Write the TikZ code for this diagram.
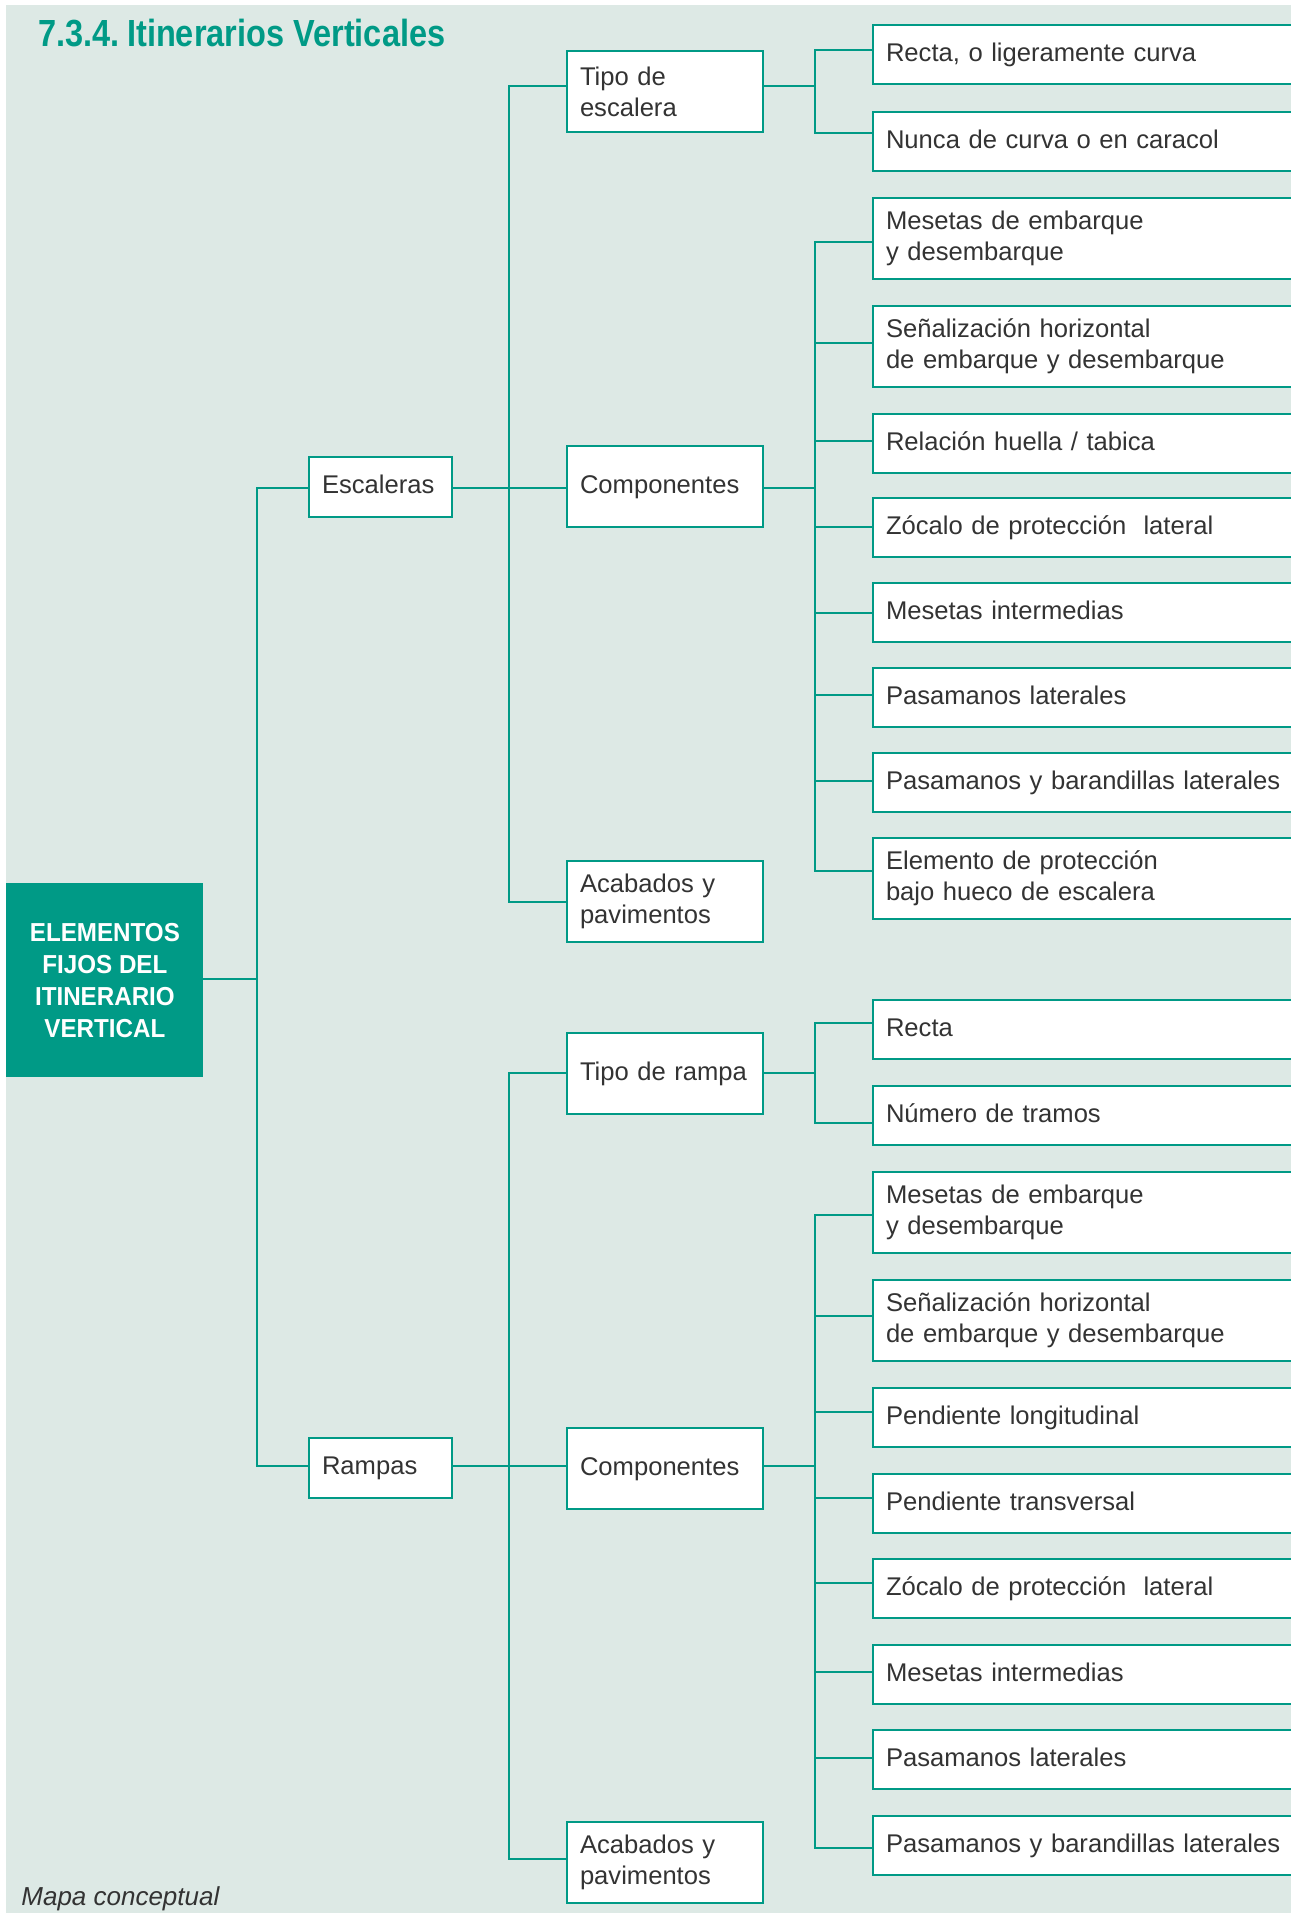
\documentclass[tikz,border=0pt]{standalone}
\usepackage{fontspec}
\setmainfont{Liberation Sans}
\newfontfamily\titlefont{Liberation Sans}[FakeStretch=0.86]
\newfontfamily\rootfont{Liberation Sans}[FakeStretch=0.93]
\usetikzlibrary{calc}
\definecolor{teal1}{HTML}{009A86}
\definecolor{bgc}{HTML}{DDE9E5}
\definecolor{txt}{HTML}{333333}
\newcommand\cc[2]{\draw[conn] (B3 |- 0,#2) -- (#1.west |- 0,#2);}
\begin{document}
\begin{tikzpicture}[x=0.5pt,y=-0.5pt,
  conn/.style={draw=teal1,line width=1pt,line cap=rect},
  bus/.style={draw=teal1,line width=1.4pt,line cap=rect},
  bx/.style={draw=teal1,fill=white,line width=1pt,anchor=north west,inner xsep=6.5pt,inner ysep=2pt,align=left,text=txt,font=\fontsize{12.8pt}{15.5pt}\selectfont},
  b1/.style={bx,minimum width=71.5pt,text width=58.5pt},
  b2/.style={bx,minimum width=98pt,text width=85pt},
  b3/.style={bx,minimum width=213pt,text width=200pt},
  one/.style={text height=9.5pt,text depth=3pt},
  s1/.style={one,minimum height=29.5pt},
  s2/.style={minimum height=40.5pt},
]
\useasboundingbox (0,0) rectangle (1291,1913);
\fill[white] (0,0) rectangle (1291,1913);
\fill[bgc] (6,5) rectangle (1291,1913);
\coordinate (B1) at (257,0);
\coordinate (B2) at (509,0);
\coordinate (B3) at (815,0);

\node[anchor=base west,inner sep=0pt,text=teal1,font=\titlefont\bfseries\fontsize{18.9pt}{20pt}\selectfont] (title) at (38,46) {7.3.4.\hspace{-0.12em} Itinerarios Verticales};
\node[anchor=base west,inner sep=0pt,text=txt,font=\itshape\fontsize{13pt}{15pt}\selectfont] (cap) at (21,1905) {Mapa conceptual};

\node[fill=teal1,minimum width=98.5pt,minimum height=97pt,anchor=north west,inner sep=0pt,align=center,text=white,font=\rootfont\bfseries\fontsize{13pt}{16pt}\selectfont] (root) at (6,883) {ELEMENTOS\\FIJOS DEL\\ITINERARIO\\VERTICAL};

\node[b1,one,minimum height=30pt] (esc) at (308,456) {Escaleras};
\node[b1,one,minimum height=30pt] (ram) at (308,1437) {Rampas};

\node[b2,s2] (tipoE) at (566,50) {Tipo de\\escalera};
\node[b2,s2,one] (compE) at (566,445) {Componentes};
\node[b2,s2] (acabE) at (566,860) {Acabados y\\pavimentos};
\node[b2,s2,one] (tipoR) at (566,1032) {Tipo de rampa};
\node[b2,s2,one] (compR) at (566,1427) {Componentes};
\node[b2,s2] (acabR) at (566,1821) {Acabados y\\pavimentos};

\node[b3,s1] (rectaE) at (872,24) {Recta, o ligeramente curva};
\node[b3,s1] (nuncaE) at (872,111) {Nunca de curva o en caracol};
\node[b3,s2] (mesE) at (872,197) {Mesetas de embarque\\y desembarque};
\node[b3,s2] (senE) at (872,305) {Señalización horizontal\\de embarque y desembarque};
\node[b3,s1] (relE) at (872,413) {Relación huella / tabica};
\node[b3,s1] (zocE) at (872,497) {Zócalo de protección\ \ lateral};
\node[b3,s1] (mintE) at (872,582) {Mesetas intermedias};
\node[b3,s1] (plE) at (872,667) {Pasamanos laterales};
\node[b3,s1] (pbE) at (872,752) {Pasamanos y barandillas laterales};
\node[b3,s2] (elE) at (872,837) {Elemento de protección\\bajo hueco de escalera};

\node[b3,s1] (rectaR) at (872,999) {Recta};
\node[b3,s1] (numR) at (872,1085) {Número de tramos};
\node[b3,s2] (mesR) at (872,1171) {Mesetas de embarque\\y desembarque};
\node[b3,s2] (senR) at (872,1279) {Señalización horizontal\\de embarque y desembarque};
\node[b3,s1] (plonR) at (872,1387) {Pendiente longitudinal};
\node[b3,s1] (ptraR) at (872,1473) {Pendiente transversal};
\node[b3,s1] (zocR) at (872,1558) {Zócalo de protección\ \ lateral};
\node[b3,s1] (mintR) at (872,1644) {Mesetas intermedias};
\node[b3,s1] (plR) at (872,1729) {Pasamanos laterales};
\node[b3,s1] (pbR) at (872,1815) {Pasamanos y barandillas laterales};

% level 1
\draw[conn] (root.east |- 0,979) -- (B1 |- 0,979);
\draw[bus] (B1 |- 0,488) -- (B1 |- 0,1466);
\draw[conn] (B1 |- 0,488) -- (esc.west |- 0,488);
\draw[conn] (B1 |- 0,1466) -- (ram.west |- 0,1466);
% level 2
\draw[conn] (esc.east |- 0,488) -- (compE.west |- 0,488);
\draw[conn] (ram.east |- 0,1466) -- (compR.west |- 0,1466);
\draw[bus] (B2 |- 0,86) -- (B2 |- 0,902);
\draw[conn] (B2 |- 0,86) -- (tipoE.west |- 0,86);
\draw[conn] (B2 |- 0,902) -- (acabE.west |- 0,902);
\draw[bus] (B2 |- 0,1073) -- (B2 |- 0,1859);
\draw[conn] (B2 |- 0,1073) -- (tipoR.west |- 0,1073);
\draw[conn] (B2 |- 0,1859) -- (acabR.west |- 0,1859);
% level 3 escaleras
\draw[conn] (tipoE.east |- 0,86) -- (B3 |- 0,86);
\draw[bus] (B3 |- 0,50) -- (B3 |- 0,133);
\cc{rectaE}{50}
\cc{nuncaE}{133}
\draw[conn] (compE.east |- 0,488) -- (B3 |- 0,488);
\draw[bus] (B3 |- 0,242) -- (B3 |- 0,871);
\cc{mesE}{242}
\cc{senE}{343}
\cc{relE}{441}
\cc{zocE}{527}
\cc{mintE}{613}
\cc{plE}{695}
\cc{pbE}{781}
\cc{elE}{871}
% level 3 rampas
\draw[conn] (tipoR.east |- 0,1073) -- (B3 |- 0,1073);
\draw[bus] (B3 |- 0,1023) -- (B3 |- 0,1123);
\cc{rectaR}{1023}
\cc{numR}{1123}
\draw[conn] (compR.east |- 0,1466) -- (B3 |- 0,1466);
\draw[bus] (B3 |- 0,1215) -- (B3 |- 0,1848);
\cc{mesR}{1215}
\cc{senR}{1316}
\cc{plonR}{1412}
\cc{ptraR}{1498}
\cc{zocR}{1583}
\cc{mintR}{1672}
\cc{plR}{1758}
\cc{pbR}{1848}
\end{tikzpicture}
\end{document}
